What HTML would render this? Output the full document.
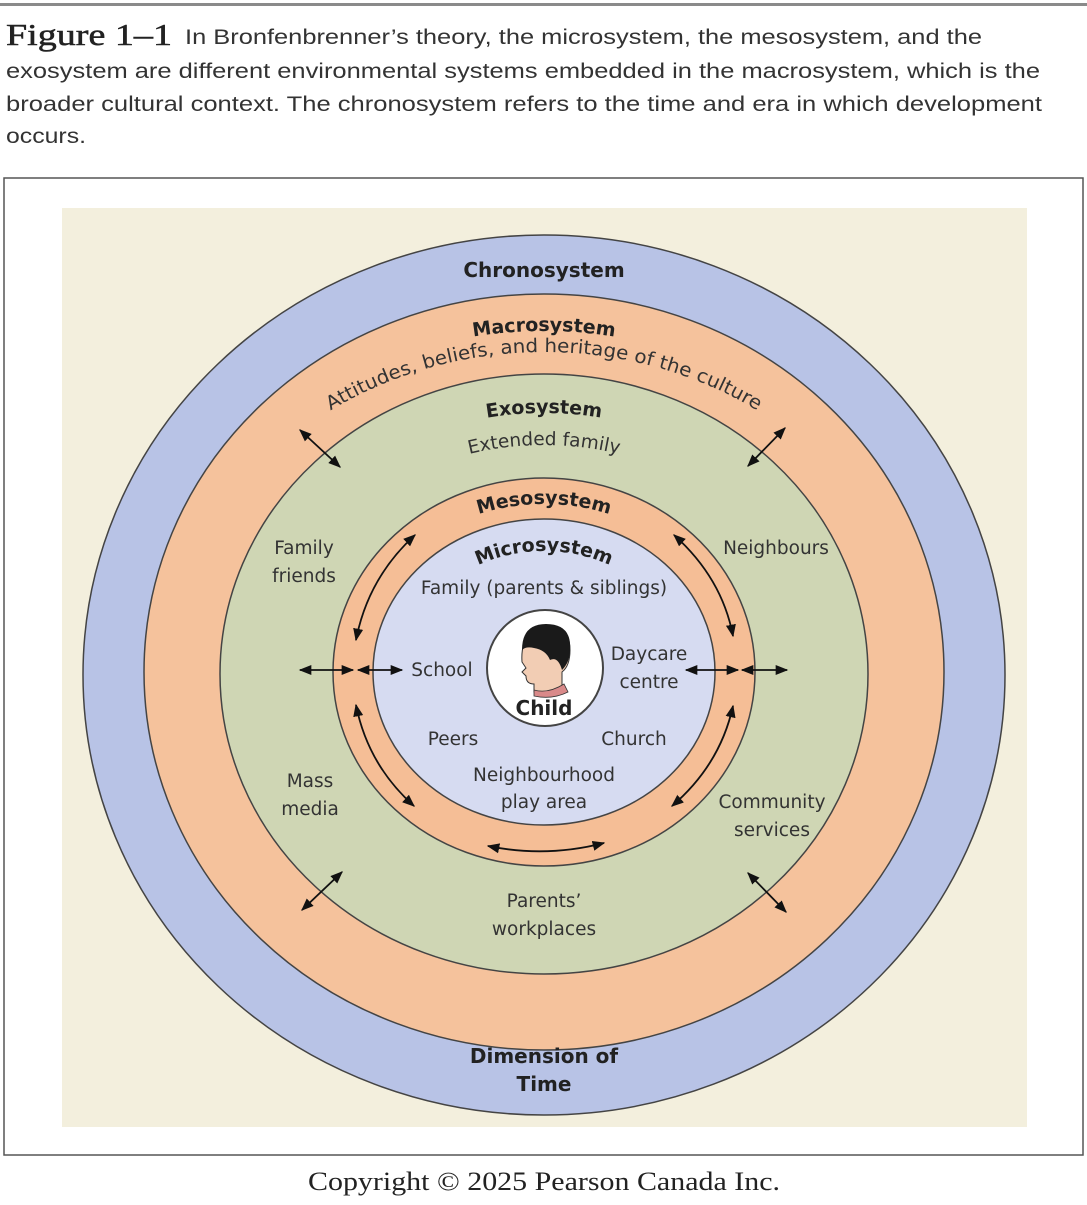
<!DOCTYPE html>
<html><head><meta charset="utf-8"><style>
body{margin:0;background:#fff;width:1087px;height:1200px;overflow:hidden;font-family:"Liberation Sans",sans-serif}
</style></head><body>
<svg width="1087" height="1200" viewBox="0 0 1087 1200" xmlns="http://www.w3.org/2000/svg">
<defs>
<marker id="a" viewBox="0 0 10 10" refX="9" refY="5" markerWidth="7" markerHeight="7" orient="auto-start-reverse"><path d="M0,1 L10,5 L0,9 z" fill="#111"/></marker>
<path id="pMacro" d="M154,672 A390,341 0 0 1 934,672"/>
<path id="pAtt" d="M174,672 A370,320 0 0 1 914,672"/>
<path id="pExo" d="M244,672 A300,259 0 0 1 844,672"/>
<path id="pExt" d="M274,672 A270,227 0 0 1 814,672"/>
<path id="pMeso" d="M354,672 A190,168 0 0 1 734,672"/>
<path id="pMicro" d="M404,672 A140,121 0 0 1 684,672"/>
</defs>
<rect x="0" y="3" width="1087" height="3" fill="#8a8a8a"/>
<text x="6" y="45" font-family="Liberation Serif,serif" font-size="31" fill="#222" stroke="#222" stroke-width="0.5" textLength="166" lengthAdjust="spacingAndGlyphs">Figure 1–1</text>
<g font-size="21" fill="#333">
<text x="185" y="44" textLength="797" lengthAdjust="spacingAndGlyphs">In Bronfenbrenner’s theory, the microsystem, the mesosystem, and the</text>
<text x="6" y="78" textLength="1034" lengthAdjust="spacingAndGlyphs">exosystem are different environmental systems embedded in the macrosystem, which is the</text>
<text x="6" y="111" textLength="1036" lengthAdjust="spacingAndGlyphs">broader cultural context. The chronosystem refers to the time and era in which development</text>
<text x="6" y="143" textLength="80" lengthAdjust="spacingAndGlyphs">occurs.</text>
</g>
<rect x="4" y="178" width="1079" height="977" fill="#fff" stroke="#555" stroke-width="1.5"/>
<rect x="62" y="208" width="965" height="919" fill="#f3efdd"/>
<g stroke="#444" stroke-width="1.5">
<ellipse cx="544" cy="675" rx="461" ry="440" fill="#b8c3e6"/>
<ellipse cx="544" cy="672" rx="400" ry="378" fill="#f5c29c"/>
<ellipse cx="544" cy="674" rx="324" ry="300" fill="#cfd6b4"/>
<ellipse cx="544" cy="672" rx="211" ry="194" fill="#f5be96"/>
<ellipse cx="544" cy="672" rx="171" ry="153" fill="#d6dbf1"/>
<circle cx="545" cy="668" r="58" fill="#fff" stroke-width="2"/>
</g>
<path d="M522,662 q-2,-30 22,-36 q26,-2 26,24 q0,16 -8,22 l0,18 q-10,6 -28,2 l0,-8 q-8,0 -8,-8 l-4,-4 l4,-4 z" fill="#f2cdb4" stroke="#333" stroke-width="1"/>
<path d="M522,650 q0,-26 24,-26 q26,0 24,26 q0,12 -8,20 q-4,-14 -12,-10 q-4,-10 -16,-12 q-8,-2 -12,2 z" fill="#1a1a1a"/>
<path d="M534,690 q14,4 30,-6 l4,8 q-16,8 -34,4 z" fill="#d98a8a" stroke="#333" stroke-width="0.8"/>
<g font-family="'DejaVu Sans',sans-serif" font-weight="bold" fill="#222">
<text x="544" y="277" font-size="20" text-anchor="middle">Chronosystem</text>
<text font-size="19"><textPath href="#pMacro" startOffset="50%" text-anchor="middle">Macrosystem</textPath></text>
<text font-size="19"><textPath href="#pExo" startOffset="50%" text-anchor="middle">Exosystem</textPath></text>
<text font-size="19"><textPath href="#pMeso" startOffset="50%" text-anchor="middle">Mesosystem</textPath></text>
<text font-size="19"><textPath href="#pMicro" startOffset="50%" text-anchor="middle">Microsystem</textPath></text>
<text x="544" y="715" font-size="20" text-anchor="middle">Child</text>
<text x="544" y="1063" font-size="20" text-anchor="middle">Dimension of</text>
<text x="544" y="1091" font-size="20" text-anchor="middle">Time</text>
</g>
<g font-family="'DejaVu Sans',sans-serif" fill="#333" font-size="18.5">
<text font-size="19"><textPath href="#pAtt" startOffset="50%" text-anchor="middle" textLength="448" lengthAdjust="spacingAndGlyphs">Attitudes, beliefs, and heritage of the culture</textPath></text>
<text><textPath href="#pExt" startOffset="50%" text-anchor="middle">Extended family</textPath></text>
<text x="544" y="594" text-anchor="middle">Family (parents &amp; siblings)</text>
<text x="442" y="676" text-anchor="middle">School</text>
<text x="649" y="660" text-anchor="middle">Daycare</text>
<text x="649" y="688" text-anchor="middle">centre</text>
<text x="453" y="745" text-anchor="middle">Peers</text>
<text x="634" y="745" text-anchor="middle">Church</text>
<text x="544" y="781" text-anchor="middle">Neighbourhood</text>
<text x="544" y="808" text-anchor="middle">play area</text>
<text x="304" y="554" text-anchor="middle">Family</text>
<text x="304" y="582" text-anchor="middle">friends</text>
<text x="776" y="554" text-anchor="middle">Neighbours</text>
<text x="310" y="787" text-anchor="middle">Mass</text>
<text x="310" y="815" text-anchor="middle">media</text>
<text x="772" y="808" text-anchor="middle">Community</text>
<text x="772" y="836" text-anchor="middle">services</text>
<text x="544" y="907" text-anchor="middle">Parents’</text>
<text x="544" y="935" text-anchor="middle">workplaces</text>
</g>
<g stroke="#111" stroke-width="1.8" fill="none" marker-start="url(#a)" marker-end="url(#a)">
<line x1="300" y1="430" x2="340" y2="467"/>
<line x1="785" y1="428" x2="748" y2="466"/>
<line x1="302" y1="910" x2="342" y2="872"/>
<line x1="748" y1="873" x2="786" y2="912"/>
<line x1="300" y1="670" x2="353" y2="670"/>
<line x1="358" y1="670" x2="402" y2="670"/>
<line x1="686" y1="670" x2="738" y2="670"/>
<line x1="742" y1="670" x2="787" y2="670"/>
<path d="M415,535 Q368,578 356,640"/>
<path d="M356,705 Q368,765 414,806"/>
<path d="M674,535 Q722,578 733,636"/>
<path d="M733,706 Q720,765 672,806"/>
<path d="M488,846 Q546,858 604,843"/>
</g>
<text x="308" y="1190" font-family="Liberation Serif,serif" font-size="26" fill="#222" textLength="472" lengthAdjust="spacingAndGlyphs">Copyright © 2025 Pearson Canada Inc.</text>
</svg>
</body></html>
